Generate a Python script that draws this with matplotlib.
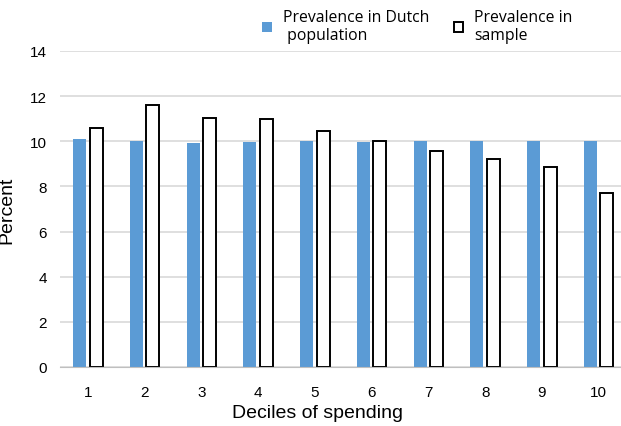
import numpy as np
import matplotlib.pyplot as plt

plt.rcParams['font.family'] = 'Liberation Sans'

deciles = ['1', '2', '3', '4', '5', '6', '7', '8', '9', '10']
dutch = [10.09, 10.01, 9.91, 9.98, 10.01, 9.95, 10.0, 10.0, 10.0, 10.0]
sample = [10.6, 11.62, 11.04, 10.97, 10.44, 10.0, 9.57, 9.23, 8.88, 7.70]

fig = plt.figure(figsize=(6.21, 4.27), dpi=100)
ax = fig.add_axes([59.6 / 621, 59 / 427, 567.4 / 621, 316 / 427])

x = np.arange(len(deciles))
w = 0.23
ax.bar(x - 0.145, dutch, width=w, color='#5B9BD5', edgecolor='none', zorder=3,
       label='Prevalence in Dutch\n population')
ax.bar(x + 0.145, sample, width=w, color='white', edgecolor='black', linewidth=1.4,
       zorder=3, label='Prevalence in\nsample')

ax.set_xlim(-0.5, len(deciles) - 0.5)
ax.set_ylim(0, 14)
ax.set_yticks(range(0, 15, 2))
ax.set_xticks(x)
ax.set_xticklabels(deciles)
ax.tick_params(length=0, labelsize=11)
ax.tick_params(axis='x', pad=13)
ax.tick_params(axis='y', pad=9)
ax.yaxis.grid(True, color='#d9d9d9', linewidth=1.2, zorder=0)
for s in ['top', 'right', 'left']:
    ax.spines[s].set_visible(False)
ax.spines['bottom'].set_color('#bfbfbf')
ax.spines['bottom'].set_zorder(4)

ax.set_ylabel('Percent', fontsize=14)
ax.yaxis.set_label_coords(-44 / 567.4, 0.5)
ax.set_xlabel('Deciles of spending', fontsize=14)
ax.xaxis.set_label_coords((318 - 59.6) / 567.4, -37 / 316)

fig.legend(loc='upper left', bbox_to_anchor=(248 / 621, 1.01), ncol=2, frameon=False,
           prop={'family': 'Open Sans', 'size': 11.3}, handlelength=0.6, handleheight=0.6,
           columnspacing=1.6, handletextpad=0.7, labelspacing=0.2)

fig.savefig('out.png', dpi=100)
